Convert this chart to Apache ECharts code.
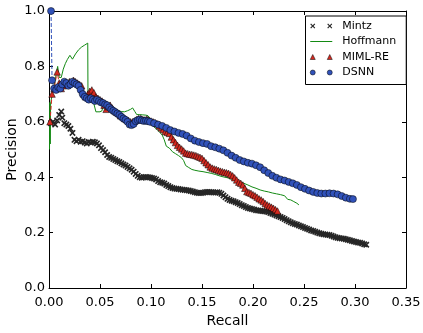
<!DOCTYPE html>
<html>
<head>
<meta charset="utf-8">
<script src="https://cdn.jsdelivr.net/npm/echarts@6/dist/echarts.min.js"></script>
<style>
  html, body { margin: 0; padding: 0; background: #fff; }
  #chart { width: 423px; height: 333px; }
</style>
</head>
<body>
<div id="chart"></div>
<script>
// Precision / recall curves for four relation-extraction systems.
const seriesNames = ['Mintz', 'Hoffmann', 'MIML-RE', 'DSNN'];
const xTicks = [0.00, 0.05, 0.10, 0.15, 0.20, 0.25, 0.30, 0.35];
const yTicks = [0.0, 0.2, 0.4, 0.6, 0.8, 1.0];

const mintzRecall = [0.002,0.004,0.006,0.008,0.010,0.012,0.013,0.015,0.017,0.019,0.021,0.023,0.025,0.027,0.029,0.031,0.033,0.035,0.037,0.039,0.041,0.043,0.045,0.047,0.049,0.051,0.053,0.055,0.057,0.059,0.061,0.063,0.065,0.067,0.069,0.071,0.073,0.075,0.077,0.079,0.081,0.083,0.085,0.087,0.089,0.091,0.093,0.095,0.097,0.099,0.101,0.103,0.105,0.107,0.109,0.111,0.113,0.115,0.117,0.119,0.121,0.123,0.125,0.127,0.129,0.131,0.133,0.135,0.137,0.139,0.141,0.143,0.145,0.147,0.149,0.151,0.153,0.155,0.157,0.159,0.161,0.163,0.165,0.167,0.169,0.171,0.173,0.175,0.177,0.179,0.181,0.183,0.185,0.187,0.189,0.191,0.193,0.195,0.197,0.199,0.201,0.203,0.205,0.207,0.209,0.211,0.213,0.215,0.217,0.219,0.221,0.223,0.225,0.227,0.229,0.231,0.233,0.235,0.237,0.239,0.241,0.243,0.245,0.247,0.249,0.251,0.253,0.255,0.257,0.259,0.261,0.263,0.265,0.267,0.269,0.271,0.273,0.275,0.277,0.279,0.281,0.283,0.285,0.287,0.289,0.291,0.293,0.295,0.297,0.299,0.301,0.303,0.305,0.307,0.309,0.311];
const mintzPrecision = [0.595,0.600,0.590,0.605,0.625,0.637,0.615,0.595,0.590,0.585,0.575,0.560,0.535,0.530,0.535,0.528,0.530,0.525,0.522,0.527,0.525,0.528,0.526,0.522,0.515,0.505,0.498,0.490,0.480,0.473,0.470,0.466,0.462,0.458,0.455,0.450,0.446,0.442,0.437,0.432,0.427,0.420,0.412,0.405,0.400,0.398,0.400,0.401,0.400,0.399,0.397,0.395,0.392,0.386,0.382,0.380,0.377,0.372,0.368,0.364,0.361,0.359,0.358,0.357,0.356,0.355,0.354,0.353,0.352,0.350,0.348,0.346,0.344,0.343,0.343,0.344,0.346,0.347,0.347,0.346,0.345,0.345,0.346,0.344,0.340,0.334,0.328,0.322,0.318,0.315,0.313,0.310,0.307,0.303,0.299,0.296,0.292,0.289,0.287,0.285,0.283,0.281,0.280,0.279,0.278,0.277,0.276,0.274,0.271,0.268,0.265,0.262,0.259,0.256,0.253,0.249,0.245,0.241,0.237,0.234,0.231,0.229,0.226,0.223,0.220,0.217,0.214,0.211,0.208,0.206,0.203,0.200,0.198,0.196,0.194,0.193,0.192,0.191,0.189,0.186,0.183,0.181,0.180,0.179,0.178,0.176,0.174,0.172,0.170,0.168,0.166,0.164,0.163,0.161,0.158,0.156];

const hoffmannRecall = [0.0005,0.0008,0.0012,0.0015,0.003,0.005,0.007,0.0085,0.010,0.012,0.014,0.016,0.018,0.0205,0.023,0.026,0.029,0.032,0.035,0.038,0.0382,0.040,0.042,0.044,0.046,0.050,0.052,0.053,0.056,0.059,0.062,0.065,0.068,0.071,0.074,0.077,0.080,0.082,0.084,0.086,0.089,0.092,0.095,0.097,0.099,0.102,0.105,0.108,0.111,0.113,0.115,0.118,0.121,0.124,0.127,0.130,0.132,0.134,0.137,0.140,0.143,0.147,0.151,0.155,0.159,0.163,0.167,0.171,0.175,0.179,0.183,0.187,0.191,0.195,0.199,0.203,0.207,0.211,0.215,0.219,0.223,0.227,0.231,0.234,0.237,0.240,0.243,0.245];
const hoffmannPrecision = [0.500,0.670,0.520,0.660,0.700,0.730,0.770,0.800,0.760,0.760,0.790,0.810,0.825,0.840,0.826,0.845,0.860,0.870,0.877,0.884,0.710,0.700,0.690,0.665,0.636,0.636,0.640,0.660,0.660,0.655,0.650,0.645,0.640,0.637,0.636,0.640,0.645,0.650,0.638,0.626,0.626,0.625,0.624,0.622,0.612,0.585,0.575,0.565,0.552,0.535,0.512,0.505,0.492,0.485,0.478,0.470,0.460,0.442,0.435,0.428,0.425,0.422,0.420,0.417,0.414,0.410,0.405,0.401,0.398,0.393,0.388,0.383,0.378,0.372,0.365,0.360,0.354,0.350,0.347,0.343,0.340,0.337,0.333,0.320,0.318,0.312,0.306,0.300];

const mimlRecall = [0.001,0.003,0.005,0.008,0.010,0.012,0.014,0.016,0.018,0.020,0.022,0.024,0.026,0.028,0.030,0.032,0.034,0.036,0.038,0.040,0.042,0.044,0.046,0.048,0.050,0.052,0.054,0.056,0.058,0.060,0.062,0.064,0.066,0.068,0.070,0.072,0.074,0.076,0.078,0.080,0.082,0.084,0.086,0.088,0.090,0.092,0.094,0.096,0.098,0.100,0.102,0.104,0.106,0.108,0.110,0.112,0.114,0.116,0.118,0.120,0.122,0.124,0.126,0.128,0.130,0.132,0.134,0.136,0.138,0.140,0.142,0.144,0.146,0.148,0.150,0.152,0.154,0.156,0.158,0.160,0.162,0.164,0.166,0.168,0.170,0.172,0.174,0.176,0.178,0.180,0.182,0.184,0.186,0.188,0.190,0.192,0.194,0.196,0.198,0.200,0.202,0.204,0.206,0.208,0.210,0.212,0.214,0.216,0.218,0.220,0.222,0.224];
const mimlPrecision = [0.600,0.700,0.720,0.780,0.740,0.720,0.730,0.740,0.735,0.745,0.740,0.750,0.745,0.740,0.735,0.730,0.700,0.690,0.700,0.710,0.715,0.705,0.690,0.685,0.680,0.675,0.660,0.645,0.655,0.660,0.650,0.640,0.635,0.630,0.622,0.618,0.612,0.608,0.605,0.600,0.600,0.603,0.608,0.612,0.612,0.608,0.607,0.610,0.606,0.603,0.600,0.597,0.593,0.585,0.578,0.572,0.565,0.562,0.558,0.545,0.535,0.525,0.515,0.508,0.502,0.495,0.487,0.485,0.483,0.482,0.480,0.478,0.475,0.472,0.468,0.460,0.452,0.445,0.437,0.433,0.430,0.428,0.425,0.422,0.420,0.418,0.416,0.414,0.410,0.405,0.398,0.390,0.382,0.378,0.372,0.360,0.348,0.345,0.342,0.337,0.333,0.328,0.322,0.318,0.312,0.305,0.300,0.296,0.292,0.288,0.283,0.278];

const dsnnRecall = [0.002,0.003,0.005,0.007,0.009,0.011,0.013,0.015,0.017,0.019,0.021,0.023,0.025,0.027,0.029,0.031,0.033,0.035,0.037,0.039,0.041,0.043,0.045,0.047,0.049,0.051,0.053,0.055,0.057,0.059,0.061,0.063,0.065,0.067,0.069,0.071,0.073,0.075,0.077,0.079,0.081,0.083,0.085,0.087,0.089,0.091,0.093,0.095,0.097,0.099,0.103,0.107,0.111,0.115,0.119,0.123,0.127,0.131,0.135,0.139,0.143,0.147,0.151,0.155,0.159,0.163,0.167,0.171,0.175,0.179,0.183,0.187,0.191,0.195,0.199,0.203,0.207,0.211,0.215,0.219,0.223,0.227,0.231,0.235,0.239,0.243,0.247,0.251,0.255,0.259,0.263,0.267,0.271,0.275,0.279,0.283,0.287,0.291,0.295,0.298];
const dsnnPrecision = [1.000,0.750,0.720,0.715,0.725,0.720,0.735,0.745,0.740,0.730,0.735,0.745,0.740,0.735,0.730,0.715,0.700,0.690,0.685,0.680,0.685,0.680,0.675,0.680,0.675,0.670,0.668,0.663,0.660,0.652,0.645,0.640,0.635,0.630,0.625,0.618,0.612,0.607,0.600,0.590,0.588,0.592,0.602,0.606,0.608,0.605,0.603,0.604,0.602,0.600,0.595,0.590,0.585,0.578,0.570,0.565,0.560,0.556,0.550,0.540,0.532,0.527,0.523,0.520,0.512,0.508,0.503,0.497,0.488,0.478,0.470,0.462,0.457,0.452,0.449,0.443,0.436,0.425,0.415,0.405,0.398,0.392,0.388,0.383,0.378,0.372,0.364,0.358,0.352,0.347,0.343,0.341,0.341,0.342,0.341,0.338,0.332,0.326,0.322,0.321];

const pairs = (xs, ys) => xs.map((x, i) => [x, ys[i]]);

const FONT = 'DejaVu Sans';
const crossSymbol = 'path://M0,1.8L1.8,0L5,3.2L8.2,0L10,1.8L6.8,5L10,8.2L8.2,10L5,6.8L1.8,10L0,8.2L3.2,5Z';
// Legend glyphs: two markers per entry, drawn in a 22x5 box
const legendCross = 'path://M0,0.8L0.8,0L2.5,1.7L4.2,0L5,0.8L3.3,2.5L5,4.2L4.2,5L2.5,3.3L0.8,5L0,4.2L1.7,2.5Z M17,0.8L17.8,0L19.5,1.7L21.2,0L22,0.8L20.3,2.5L22,4.2L21.2,5L19.5,3.3L17.8,5L17,4.2L18.7,2.5Z';
const legendLine = 'path://M0,0L0.01,0L0,0.01Z M0,2L22,2L22,3L0,3Z M0,5L0.01,5L0,4.99Z';
const legendTriangles = 'path://M0,5L2.5,0L5,5Z M17,5L19.5,0L22,5Z';
const legendCircles = 'path://M0,2.5A2.5,2.5,0,1,0,5,2.5A2.5,2.5,0,1,0,0,2.5Z M17,2.5A2.5,2.5,0,1,0,22,2.5A2.5,2.5,0,1,0,17,2.5Z';

const colors = { mintz: '#262626', hoffmann: '#138a13', miml: '#d42a20', dsnn: '#3152ba' };

const tickStyle = { show: true, inside: true, length: 4, lineStyle: { color: '#000', width: 1 } };
const lineStyleAxis = { show: true, onZero: false, lineStyle: { color: '#000', width: 1 } };

const chart = echarts.init(document.getElementById('chart'), null, { renderer: 'canvas' });
chart.setOption({
  animation: false,
  backgroundColor: '#fff',
  grid: { left: 49, right: 17, top: 11, bottom: 45, containLabel: false, outerBoundsMode: 'none' },
  legend: {
    orient: 'vertical',
    left: 305.5,
    top: 16,
    padding: [3, 10, 5, 4.5],
    itemWidth: 22,
    itemHeight: 5,
    itemGap: 1.5,
    borderColor: '#000',
    borderWidth: 1,
    backgroundColor: '#fff',
    itemStyle: { borderWidth: 0.5, borderColor: '#000' },
    textStyle: { fontFamily: FONT, fontSize: 11, color: '#000', lineHeight: 14, padding: [0, 0, 0, 5] },
    data: [
      { name: 'Mintz', icon: legendCross, itemStyle: { borderWidth: 0 } },
      { name: 'Hoffmann', icon: legendLine, itemStyle: { borderWidth: 0 } },
      { name: 'MIML-RE', icon: legendTriangles },
      { name: 'DSNN', icon: legendCircles }
    ]
  },
  xAxis: [
    {
      type: 'value', position: 'bottom', min: xTicks[0], max: xTicks[xTicks.length - 1], interval: 0.05,
      axisLine: lineStyleAxis, axisTick: tickStyle, splitLine: { show: false },
      axisLabel: { color: '#000', fontFamily: FONT, fontSize: 13, margin: 8, formatter: v => v.toFixed(2) },
      name: 'Recall', nameLocation: 'middle', nameGap: 26, nameMoveOverlap: false,
      nameTextStyle: { color: '#000', fontFamily: FONT, fontSize: 14 }
    },
    {
      type: 'value', position: 'top', min: xTicks[0], max: xTicks[xTicks.length - 1], interval: 0.05,
      axisLine: lineStyleAxis, axisTick: tickStyle, splitLine: { show: false }, axisLabel: { show: false }
    }
  ],
  yAxis: [
    {
      type: 'value', position: 'left', min: yTicks[0], max: yTicks[yTicks.length - 1], interval: 0.2,
      axisLine: lineStyleAxis, axisTick: tickStyle, splitLine: { show: false },
      axisLabel: { color: '#000', fontFamily: FONT, fontSize: 13, margin: 4, formatter: v => v.toFixed(1) },
      name: 'Precision', nameLocation: 'middle', nameGap: 30, nameMoveOverlap: false,
      nameTextStyle: { color: '#000', fontFamily: FONT, fontSize: 14 }
    },
    {
      type: 'value', position: 'right', min: yTicks[0], max: yTicks[yTicks.length - 1], interval: 0.2,
      axisLine: lineStyleAxis, axisTick: tickStyle, splitLine: { show: false }, axisLabel: { show: false }
    }
  ],
  series: [
    {
      name: seriesNames[0], type: 'line', xAxisIndex: 0, yAxisIndex: 0,
      data: pairs(mintzRecall, mintzPrecision),
      color: colors.mintz,
      symbol: crossSymbol, symbolSize: 6.5, showAllSymbol: true,
      itemStyle: { color: colors.mintz },
      lineStyle: { width: 0, opacity: 0 }
    },
    {
      name: seriesNames[1], type: 'line', xAxisIndex: 0, yAxisIndex: 0,
      data: pairs(hoffmannRecall, hoffmannPrecision),
      color: colors.hoffmann, symbol: 'none',
      lineStyle: { color: colors.hoffmann, width: 1 }
    },
    {
      name: seriesNames[2], type: 'line', xAxisIndex: 0, yAxisIndex: 0,
      data: pairs(mimlRecall, mimlPrecision),
      color: colors.miml,
      symbol: 'triangle', symbolSize: 6.5, showAllSymbol: true,
      itemStyle: { color: colors.miml, borderColor: '#000', borderWidth: 0.5 },
      lineStyle: { color: colors.miml, width: 1, type: [4, 2] }
    },
    {
      name: seriesNames[3], type: 'line', xAxisIndex: 0, yAxisIndex: 0,
      data: pairs(dsnnRecall, dsnnPrecision),
      color: colors.dsnn,
      symbol: 'circle', symbolSize: 7, showAllSymbol: true,
      itemStyle: { color: colors.dsnn, borderColor: '#000', borderWidth: 0.5 },
      lineStyle: { color: colors.dsnn, width: 1, type: [4, 2] }
    }
  ]
});
</script>
</body>
</html>
